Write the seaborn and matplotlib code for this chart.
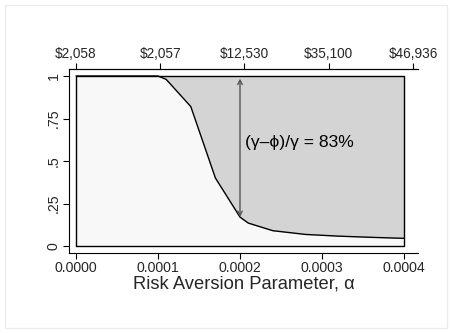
import matplotlib
matplotlib.use("Agg")
import matplotlib.pyplot as plt
import seaborn as sns
import pandas as pd
from matplotlib.patches import Rectangle

# Data
alpha = [0.0, 0.0001, 0.00011, 0.00014, 0.00017, 0.0002, 0.00021, 0.00024, 0.00028, 0.00032, 0.00036, 0.0004]
share = [1.0, 1.0, 0.98, 0.82, 0.40, 0.17, 0.135, 0.09, 0.068, 0.058, 0.051, 0.045]
bottom_ticks = [0.0, 0.0001, 0.0002, 0.0003, 0.0004]
bottom_labels = ["0.0000", "0.0001", "0.0002", "0.0003", "0.0004"]
top_labels = ["$2,058", "$2,057", "$12,530", "$35,100", "$46,936"]
y_ticks = [0, 0.25, 0.5, 0.75, 1]
y_labels = ["0", ".25", ".5", ".75", "1"]
arrow_x = 0.0002
arrow_share = 0.17
annot_text = "(\u03b3\u2013\u03d5)/\u03b3 = 83%"

sns.set_theme(style="white")
plt.rcParams["font.family"] = ["Liberation Sans", "DejaVu Sans"]

df = pd.DataFrame({"alpha": alpha, "share": share})

fig = plt.figure(figsize=(4.52, 3.33), dpi=100, facecolor="white")
fig.patches.append(Rectangle((5/452, 5/333), 1 - 10/452, 1 - 10/333, transform=fig.transFigure,
                             facecolor="white", edgecolor="#ececec", linewidth=1.0, zorder=-10))
ax = fig.add_axes([69/452, 80/333, 349/452, 184/333])
ax.set_facecolor("white")

ax.fill_between(df["alpha"], 0, df["share"], color="#f8f8f8", linewidth=0, zorder=1)
ax.fill_between(df["alpha"], df["share"], 1, color="#d4d4d4", linewidth=0, zorder=1)
sns.lineplot(data=df, x="alpha", y="share", color="black", linewidth=1.0, ax=ax, zorder=3)
# outline of plot area
ax.plot([0, 0, 0.0004, 0.0004, 0], [0, 1, 1, 0, 0], color="black", linewidth=1.0, zorder=3)

ax.annotate("", xy=(arrow_x, 0.985), xytext=(arrow_x, arrow_share),
            arrowprops=dict(arrowstyle="<->", color="#555555", lw=1.0,
                            shrinkA=0, shrinkB=0, mutation_scale=8), zorder=4)
ax.text(0.000206, 0.61, annot_text, fontsize=12.6, va="center", ha="left", color="black", zorder=5)

xpx = 820000.0
ax.set_xlim(0 - 7/xpx, 0.0004 + 14/xpx)
ax.set_ylim(-7/170, 1 + 7/170)

ax.set_xticks(bottom_ticks)
ax.set_xticklabels(bottom_labels, fontsize=10.2)
ax.set_yticks(y_ticks)
ax.set_yticklabels(y_labels, fontsize=10.2, rotation=90, va="center")
ax.tick_params(axis="both", direction="out", length=4, width=0.8, color="black", pad=2,
               bottom=True, left=True)
ax.set_xlabel("Risk Aversion Parameter, \u03b1", fontsize=13.2, labelpad=0)
ax.set_ylabel("")

for s in ["left", "bottom", "top"]:
    ax.spines[s].set_visible(True)
    ax.spines[s].set_color("black")
    ax.spines[s].set_linewidth(0.8)
ax.spines["right"].set_visible(False)

# top axis
ax2 = ax.twiny()
ax2.set_xlim((69 - 76) / 84.25, (418 - 76) / 84.25)
ax2.set_xticks(range(len(top_labels)))
ax2.set_xticklabels(top_labels, fontsize=9.8)
ax2.tick_params(axis="x", direction="out", length=4, width=0.8, color="black", pad=2, top=True)
for s in ["left", "bottom", "right"]:
    ax2.spines[s].set_visible(False)
ax2.spines["top"].set_color("black")
ax2.spines["top"].set_linewidth(0.8)
ax2.grid(False)
ax.grid(False)

fig.savefig("out.png", dpi=100, facecolor="white")
